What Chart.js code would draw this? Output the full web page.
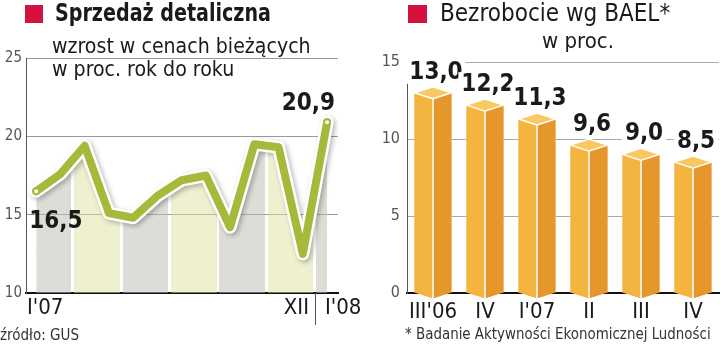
<!DOCTYPE html>
<html>
<head>
<meta charset="utf-8">
<script src="https://cdn.jsdelivr.net/npm/chart.js@4.4.1/dist/chart.umd.min.js"></script>
<style>
body{margin:0;background:#fff;width:720px;height:345px;overflow:hidden;position:relative;
  font-family:'DejaVu Sans Condensed','DejaVu Sans',sans-serif;color:#1a1a1a}
.box{position:absolute;top:0;width:360px;height:345px}
.t{position:absolute;white-space:nowrap;line-height:1;transform-origin:0 0}
.sq{position:absolute;background:#d3123e}
</style>
</head>
<body>
<div class="box" style="left:0"><canvas id="sales"></canvas></div>
<div class="box" style="left:360px"><canvas id="jobs"></canvas></div>

<div class="sq" style="left:25px;top:5px;width:18px;height:18px"></div>
<div class="t" style="left:55px;top:1px;font-size:24px;font-weight:bold;transform:scaleX(0.885)">Sprzedaż detaliczna</div>
<div class="t" style="left:52px;top:35px;font-size:22px;transform:scaleX(0.96)">wzrost w cenach bieżących</div>
<div class="t" style="left:52px;top:58px;font-size:22px;transform:scaleX(0.96)">w proc. rok do roku</div>
<div class="t" style="left:0;top:328px;font-size:15px;color:#333">źródło: GUS</div>

<div class="sq" style="left:408px;top:5px;width:19px;height:18px"></div>
<div class="t" style="left:440px;top:1px;font-size:24px">Bezrobocie wg BAEL*</div>
<div class="t" style="left:542px;top:30px;font-size:22px">w proc.</div>
<div class="t" style="left:405px;top:327px;font-size:15.5px;color:#333;transform:scaleX(0.962)">* Badanie Aktywności Ekonomicznej Ludności</div>

<script>
const FONT = "'DejaVu Sans Condensed','DejaVu Sans',sans-serif";

// sprzedaz detaliczna, I'07 - I'08
const months = ["I'07","II","III","IV","V","VI","VII","VIII","IX","X","XI","XII","I'08"];
const salesGrowth = [16.5, 17.6, 19.4, 15.1, 14.8, 16.2, 17.2, 17.5, 14.2, 19.5, 19.3, 12.5, 20.9];
const shownMonths = ["I'07", "XII", "I'08"];

// bezrobocie BAEL
const quarters = ["III'06","IV","I'07","II","III","IV"];
const unemployment = [13.0, 12.2, 11.3, 9.6, 9.0, 8.5];

const fmt = (v) => v.toFixed(1).replace(".", ",");
const green = "#a6b93a";

// alternating bands under the line, two months each
const bandFill = (c) => {
	const chart = c.chart;
	const a = chart.chartArea;
	if (!a) return "transparent";
	const xs = chart.scales.x;
	const g = chart.ctx.createLinearGradient(a.left, 0, a.right, 0);
	const w = a.right - a.left;
	const edges = [xs.min, 1.5, 3.5, 5.5, 7.5, 9.5, 11.5, xs.max];
	const cols = ["rgba(188,190,178,0.52)", "rgba(223,225,161,0.5)"];
	for (let i = 0; i < edges.length - 1; i++) {
		let p0 = (xs.getPixelForValue(edges[i]) - a.left) / w;
		let p1 = (xs.getPixelForValue(edges[i + 1]) - a.left) / w;
		if (i > 0) p0 += 1.5 / w;
		if (i < edges.length - 2) p1 -= 1.5 / w;
		g.addColorStop(Math.max(0, p0), cols[i % 2]);
		g.addColorStop(Math.min(1, p1), cols[i % 2]);
		if (i < edges.length - 2) {
			g.addColorStop(Math.min(1, p1 + 0.0001), "rgba(255,255,255,0)");
			g.addColorStop(Math.min(1, p1 + 3 / w - 0.0001), "rgba(255,255,255,0)");
		}
	}
	return g;
};

const pts = salesGrowth.map((v, i) => ({ x: i, y: v }));
const last = salesGrowth.length - 1;

const shadowPlugin = {
	id: "shadow",
	beforeDatasetDraw(chart, args) {
		if (args.index !== 1) return;
		const ctx = chart.ctx;
		ctx.save();
		ctx.shadowColor = "rgba(0,0,0,0.28)";
		ctx.shadowBlur = 5;
		ctx.shadowOffsetX = 2;
		ctx.shadowOffsetY = 2;
	},
	afterDatasetDraw(chart, args) {
		if (args.index === 1) chart.ctx.restore();
	},
};

const salesLabels = {
	id: "salesLabels",
	afterDraw(chart) {
		const ctx = chart.ctx;
		const a = chart.chartArea;
		const xs = chart.scales.x;
		const meta = chart.getDatasetMeta(2);
		const p0 = meta.data[0];
		const pN = meta.data[last];
		ctx.save();
		ctx.fillStyle = "#1a1a1a";
		ctx.font = "bold 24px " + FONT;
		ctx.textAlign = "left";
		ctx.fillText(fmt(salesGrowth[0]), p0.x - 7, p0.y + 37);
		ctx.textAlign = "right";
		ctx.fillText(fmt(salesGrowth[last]), pN.x + 8, pN.y - 12);

		// month labels under the axis
		const sep = xs.getPixelForValue(last - 0.5);
		ctx.strokeStyle = "#555";
		ctx.lineWidth = 1;
		ctx.beginPath();
		ctx.moveTo(sep + 0.5, a.bottom);
		ctx.lineTo(sep + 0.5, a.bottom + 32);
		ctx.stroke();
		ctx.font = "22px " + FONT;
		ctx.textAlign = "left";
		ctx.fillText(shownMonths[0], a.left + 1, a.bottom + 21);
		ctx.textAlign = "right";
		ctx.fillText(shownMonths[1], sep - 6, a.bottom + 21);
		ctx.textAlign = "left";
		ctx.fillText(shownMonths[2], sep + 10, a.bottom + 21);
		ctx.restore();
	},
};

new Chart(document.getElementById("sales"), {
	type: "line",
	data: {
		datasets: [
			{ data: pts, borderWidth: 0, pointRadius: 0, fill: "start", backgroundColor: bandFill, order: 3 },
			{ data: pts, borderColor: "#fff", borderWidth: 13, pointRadius: 0, fill: false,
				borderJoinStyle: "round", borderCapStyle: "round", order: 2 },
			{ data: pts, borderColor: green, borderWidth: 8, fill: false,
				borderJoinStyle: "round", borderCapStyle: "round",
				pointRadius: (c) => (c.dataIndex === 0 || c.dataIndex === last ? 3 : 0),
				pointBackgroundColor: "#fff", pointBorderColor: green, pointBorderWidth: 2, order: 1 },
		],
	},
	options: {
		responsive: true,
		maintainAspectRatio: false,
		animation: false,
		layout: { padding: { top: 58, right: 22, left: 0, bottom: 0 } },
		plugins: { legend: { display: false }, tooltip: { enabled: false } },
		scales: {
			x: {
				type: "linear", min: -0.42, max: 12.45,
				ticks: { display: false },
				grid: { drawOnChartArea: false, drawTicks: false },
				border: { color: "#111", width: 2 },
				afterFit: (s) => { s.height = 52; },
			},
			y: {
				min: 10, max: 25,
				ticks: { stepSize: 5, color: "#555", font: { family: FONT, size: 15 }, padding: 4 },
				grid: { color: "#999", drawTicks: false },
				border: { color: "#555", width: 1 },
				afterFit: (s) => { s.width = 26; },
			},
		},
	},
	plugins: [shadowPlugin, salesLabels],
});

// 3D boxes on top of the plain bars
const boxes = {
	id: "boxes",
	afterDatasetsDraw(chart) {
		const ctx = chart.ctx;
		const meta = chart.getDatasetMeta(0);
		const d = 6;
		ctx.save();
		meta.data.forEach((el, i) => {
			const xl = el.x - el.width / 2, xr = el.x + el.width / 2, xm = el.x;
			const y = el.y, b = el.base;
			ctx.fillStyle = "#f4b540";
			ctx.beginPath();
			ctx.moveTo(xl, y); ctx.lineTo(xm, y + d); ctx.lineTo(xm, b + d); ctx.lineTo(xl, b);
			ctx.closePath(); ctx.fill();
			ctx.fillStyle = "#e6972c";
			ctx.beginPath();
			ctx.moveTo(xm, y + d); ctx.lineTo(xr, y); ctx.lineTo(xr, b); ctx.lineTo(xm, b + d);
			ctx.closePath(); ctx.fill();
			ctx.fillStyle = "#f8c862";
			ctx.beginPath();
			ctx.moveTo(xl, y); ctx.lineTo(xm, y - d); ctx.lineTo(xr, y); ctx.lineTo(xm, y + d);
			ctx.closePath(); ctx.fill();
			ctx.strokeStyle = "#fff";
			ctx.lineWidth = 1.5;
			ctx.lineJoin = "round";
			ctx.stroke();
			ctx.beginPath();
			ctx.moveTo(xm, y + d); ctx.lineTo(xm, b + d);
			ctx.stroke();

			// value label
			const txt = fmt(unemployment[i]);
			ctx.font = "bold 24px " + FONT;
			const tw = ctx.measureText(txt).width;
			const ty = y - 14;
			ctx.fillStyle = "#fff";
			ctx.fillRect(el.x + 3 - tw / 2 - 3, ty - 19, tw + 6, 24);
			ctx.fillStyle = "#1a1a1a";
			ctx.textAlign = "center";
			ctx.fillText(txt, el.x + 3, ty);
		});
		ctx.restore();
	},
};

new Chart(document.getElementById("jobs"), {
	type: "bar",
	data: {
		labels: quarters,
		datasets: [{ data: unemployment, backgroundColor: "#f4b540", borderWidth: 0,
			barPercentage: 0.71, categoryPercentage: 1 }],
	},
	options: {
		responsive: true,
		maintainAspectRatio: false,
		animation: false,
		layout: { padding: { top: 62, right: 1, left: 0, bottom: 0 } },
		plugins: { legend: { display: false }, tooltip: { enabled: false } },
		scales: {
			x: {
				ticks: { color: "#1a1a1a", font: { family: FONT, size: 22 }, padding: 6,
					maxRotation: 0, minRotation: 0, autoSkip: false },
				grid: { drawOnChartArea: false, drawTicks: false },
				border: { color: "#111", width: 2 },
				afterFit: (s) => { s.height = 52; },
			},
			y: {
				min: 0, max: 15,
				ticks: { stepSize: 5, color: "#555", font: { family: FONT, size: 16 }, padding: 7 },
				grid: { color: "#aaa", drawTicks: false },
				border: { color: "#555", width: 1 },
				afterFit: (s) => { s.width = 47; },
			},
		},
	},
	plugins: [boxes],
});
</script>
</body>
</html>
